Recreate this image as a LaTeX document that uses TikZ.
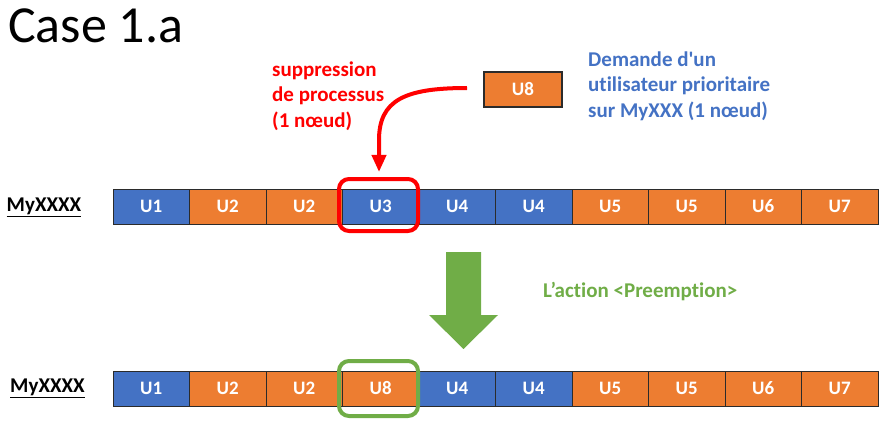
\documentclass[tikz,border=0pt]{standalone}
\usepackage{fontspec}
\setmainfont{Carlito}[Ligatures={TeX,NoCommon}]
\usetikzlibrary{arrows.meta,calc}
\definecolor{cblue}{HTML}{4472C4}
\definecolor{corange}{HTML}{ED7D31}
\definecolor{cgreen}{HTML}{70AD47}
\definecolor{cred}{HTML}{FF0000}
\definecolor{cedge}{HTML}{2B2B2B}
\tikzset{
  cell/.style={draw=cedge, line width=1pt, minimum width=76.5pt, minimum height=35pt,
    inner sep=0pt, text=white, font=\bfseries\fontsize{19}{22}\selectfont},
  lbl/.style={inner sep=0pt, font=\bfseries\fontsize{21}{25.6}\selectfont, align=left},
  rowlabel/.style={inner sep=0pt, font=\bfseries\fontsize{21}{24}\selectfont},
  hilite/.style={line width=4pt, rounded corners=10pt, minimum width=79pt, inner sep=0pt}
}
\begin{document}
\begin{tikzpicture}[x=1pt,y=-1pt]
\useasboundingbox (0,0) rectangle (886,425);
% title
\node[anchor=base west, inner sep=0pt, font=\fontsize{52}{60}\selectfont] (title) at (8,43) {Case 1.a};
% rows
\foreach \i/\t/\c in {1/U1/cblue,2/U2/corange,3/U2/corange,4/U3/cblue,5/U4/cblue,6/U4/cblue,7/U5/corange,8/U5/corange,9/U6/corange,10/U7/corange}{
  \node[cell, fill=\c] (t\i) at ({113+76.5*(\i-0.5)},206.5) {\t};
}
\foreach \i/\t/\c in {1/U1/cblue,2/U2/corange,3/U2/corange,4/U8/corange,5/U4/cblue,6/U4/cblue,7/U5/corange,8/U5/corange,9/U6/corange,10/U7/corange}{
  \node[cell, fill=\c] (b\i) at ({113+76.5*(\i-0.5)},388.5) {\t};
}
\node[rowlabel] (lt) at (44,207) {\underline{MyXXXX}};
\node[rowlabel] (lb) at (47.5,388) {\underline{MyXXXX}};
% highlight boxes
\node[hilite, draw=cred, minimum height=52pt] (redbox) at (378.5,205) {};
\node[hilite, draw=cgreen, minimum height=55pt] (greenbox) at (378.5,388.5) {};
% U8 request
\node[cell, fill=corange, minimum width=78pt, line width=1.3pt] (u8) at (523,89.5) {U8};
% labels
\node[lbl, text=cred, anchor=west] (supp) at (272,96) {suppression\\de processus\\(1 nœud)};
\node[lbl, text=cblue, anchor=west] (dem) at (588,86) {Demande d\textquotesingle un\\utilisateur prioritaire\\sur MyXXX (1 nœud)};
\node[lbl, text=cgreen, anchor=west] (act) at (543,292) {L’action <Preemption>};
% red arrow
\coordinate (rs) at (467,88);
\coordinate (rt) at ($(redbox.north)+(0.5,-5)$);
\draw[cred, line width=4pt, -{Triangle[width=14pt,length=17pt]}]
  (rs) .. controls (405,88) and (379,100) .. (379,140) -- (rt);
% green block arrow
\fill[cgreen] (446,252) -- (481,252) -- (481,315) -- (498,315) -- (463.5,349) -- (429,315) -- (446,315) -- cycle;
\end{tikzpicture}
\end{document}
